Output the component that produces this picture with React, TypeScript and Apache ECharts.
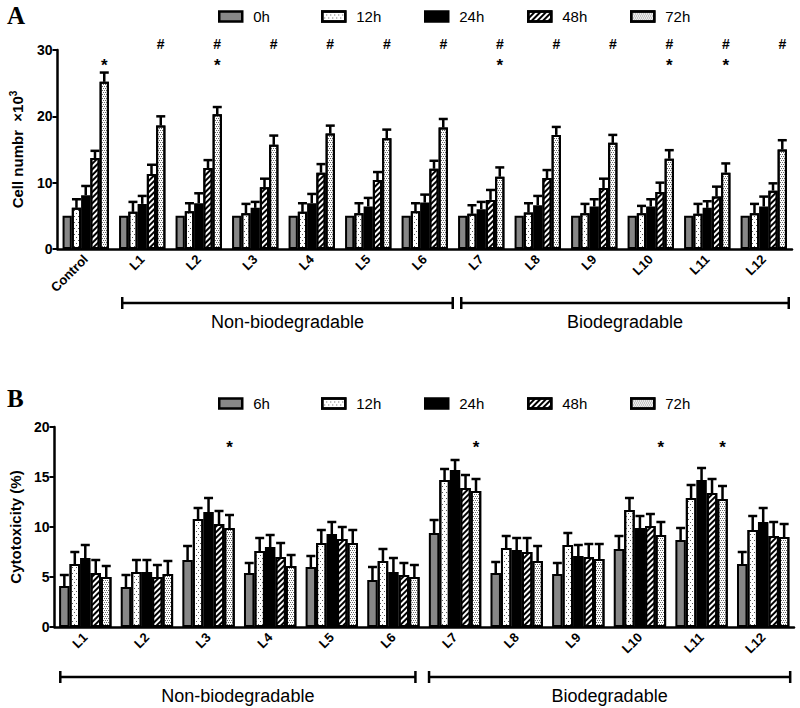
import React, { useEffect, useRef } from 'react';
import * as echarts from 'echarts';

// ---------- Data ----------
const catsA = ['Control', 'L1', 'L2', 'L3', 'L4', 'L5', 'L6', 'L7', 'L8', 'L9', 'L10', 'L11', 'L12'];
const catsB = ['L1', 'L2', 'L3', 'L4', 'L5', 'L6', 'L7', 'L8', 'L9', 'L10', 'L11', 'L12'];
const timesA = ['0h', '12h', '24h', '48h', '72h'];
const timesB = ['6h', '12h', '24h', '48h', '72h'];

// Panel A: cell number (x10^3), mean and SEM (upper bar)
const a0h = [5.0, 5.0, 5.0, 5.0, 5.0, 5.0, 5.0, 5.0, 5.0, 5.0, 5.0, 5.0, 5.0];
const a0hErr = [0, 0, 0, 0, 0, 0, 0, 0, 0, 0, 0, 0, 0];
const a12h = [6.2, 5.6, 5.7, 5.4, 5.6, 5.4, 5.7, 5.3, 5.5, 5.4, 5.4, 5.3, 5.4];
const a12hErr = [1.3, 1.5, 1.2, 1.4, 1.3, 1.5, 1.2, 1.3, 1.4, 1.4, 1.1, 1.5, 1.4];
const a24h = [8.1, 6.8, 6.9, 6.2, 6.9, 6.4, 7.0, 6.0, 6.6, 6.4, 6.4, 6.2, 6.4];
const a24hErr = [1.4, 1.2, 1.5, 0.9, 1.4, 1.3, 1.2, 1.1, 1.4, 1.1, 1.1, 1.0, 1.5];
const a48h = [13.7, 11.3, 12.2, 9.3, 11.5, 10.4, 12.1, 7.4, 10.7, 9.2, 8.6, 7.9, 8.8];
const a48hErr = [1.1, 1.4, 1.2, 1.3, 1.3, 1.2, 1.2, 1.5, 1.2, 1.4, 1.4, 1.5, 1.1];
const a72h = [25.2, 18.6, 20.3, 15.7, 17.4, 16.7, 18.3, 10.9, 17.2, 16.0, 13.6, 11.5, 15.0];
const a72hErr = [1.4, 1.4, 1.1, 1.4, 1.2, 1.3, 1.3, 1.4, 1.2, 1.2, 1.3, 1.4, 1.4];

// Panel B: cytotoxicity (%)
const b6h = [4.1, 4.0, 6.7, 5.4, 6.0, 4.7, 9.4, 5.4, 5.3, 7.8, 8.7, 6.3];
const b6hErr = [1.1, 1.2, 1.4, 1.0, 1.1, 1.3, 1.3, 1.1, 1.1, 1.3, 1.2, 1.2];
const b12h = [6.3, 5.5, 10.8, 7.6, 8.4, 6.6, 14.7, 7.9, 8.2, 11.7, 12.9, 9.7];
const b12hErr = [1.2, 1.2, 1.1, 1.3, 1.3, 1.2, 1.1, 1.2, 1.2, 1.2, 1.3, 1.4];
const b24h = [6.9, 5.5, 11.5, 8.0, 9.3, 5.5, 15.7, 7.7, 7.1, 9.9, 14.7, 10.5];
const b24hErr = [1.3, 1.2, 1.4, 1.2, 1.2, 1.4, 1.0, 1.2, 1.1, 1.2, 1.2, 1.4];
const b48h = [5.4, 5.0, 10.3, 7.0, 8.8, 5.2, 13.9, 7.5, 7.0, 10.1, 13.4, 9.1];
const b48hErr = [1.3, 1.2, 1.3, 1.4, 1.2, 1.2, 1.3, 1.4, 1.3, 1.2, 1.4, 1.4];
const b72h = [5.0, 5.3, 9.9, 6.1, 8.4, 5.0, 13.6, 6.6, 6.8, 9.2, 12.8, 9.0];
const b72hErr = [1.1, 1.3, 1.3, 1.1, 1.3, 1.2, 1.2, 1.5, 1.5, 1.3, 1.3, 1.3];

// Significance marks (placed above the 72h bar)
const hashA = ['L1', 'L2', 'L3', 'L4', 'L5', 'L6', 'L7', 'L8', 'L9', 'L10', 'L11', 'L12'];
const starA = ['Control', 'L2', 'L7', 'L10', 'L11'];
const starB = ['L3', 'L7', 'L10', 'L11'];

// ---------- Styling ----------
const FONT = '"Liberation Sans", Arial, sans-serif';
const GAP_A = 0.18;
const GAP_B = 0.15;

const fills: any[] = [
  { color: '#878787' },
  {
    color: '#ffffff',
    decal: { symbol: 'rect', symbolSize: 1, color: '#555', backgroundColor: '#fff', dashArrayX: [[1, 3], [0, 2, 1, 1]], dashArrayY: [1, 2] },
  },
  { color: '#000000' },
  {
    color: '#ffffff',
    decal: { symbol: 'rect', symbolSize: 1, color: '#000', backgroundColor: '#fff', dashArrayX: [1, 0], dashArrayY: [1.6, 2], rotation: -Math.PI / 4 },
  },
  {
    color: '#ffffff',
    decal: { symbol: 'rect', symbolSize: 1, color: '#666', backgroundColor: '#fff', dashArrayX: [[1, 1], [0, 1, 1, 0]], dashArrayY: [1, 1] },
  },
];

function buildPanel(p: number, cats: string[], names: string[], means: number[][], errs: number[][], gap: number) {
  const series: any[] = [];
  names.forEach((n, si) => {
    series.push({
      type: 'bar',
      name: n,
      xAxisIndex: p,
      yAxisIndex: p,
      data: means[si],
      barGap: '0%',
      barCategoryGap: `${gap * 100}%`,
      itemStyle: { ...fills[si], borderColor: '#000', borderWidth: 2 },
      emphasis: { disabled: true },
      z: 2,
    });
  });
  const rows: number[][] = [];
  means.forEach((arr, si) => arr.forEach((m, ci) => rows.push([ci, si, m, m + errs[si][ci]])));
  series.push({
    type: 'custom',
    name: `err${p}`,
    xAxisIndex: p,
    yAxisIndex: p,
    data: rows,
    encode: { x: 0, y: 3 },
    z: 3,
    silent: true,
    renderItem: (params: any, api: any) => {
      const ci = api.value(0);
      const si = api.value(1);
      const m = api.value(2);
      const t = api.value(3);
      if (t <= m) return null;
      const band = api.size([1, 0])[0];
      const gw = band * (1 - gap);
      const bw = gw / 5;
      const cx = api.coord([ci, 0])[0] - gw / 2 + bw * (si + 0.5);
      const y1 = api.coord([ci, m])[1];
      const y2 = api.coord([ci, t])[1];
      return {
        type: 'group',
        children: [
          { type: 'line', shape: { x1: cx, y1, x2: cx, y2 }, style: { stroke: '#000', lineWidth: 2.5 } },
          { type: 'line', shape: { x1: cx - 4.5, y1: y2, x2: cx + 4.5, y2 }, style: { stroke: '#000', lineWidth: 2.5 } },
        ],
      };
    },
  });
  return series;
}

function markSeries(p: number, cats: string[], list: string[], yVal: number, ch: string, gap: number) {
  return {
    type: 'custom',
    name: `mark${p}${ch}`,
    xAxisIndex: p,
    yAxisIndex: p,
    data: list.map((c) => [cats.indexOf(c), yVal]),
    silent: true,
    z: 5,
    renderItem: (params: any, api: any) => {
      const ci = api.value(0);
      const band = api.size([1, 0])[0];
      const gw = band * (1 - gap);
      const bw = gw / 5;
      const cx = api.coord([ci, 0])[0] - gw / 2 + bw * 4.5;
      const y = api.coord([ci, api.value(1)])[1];
      return {
        type: 'text',
        x: cx,
        y,
        style: { text: ch, fill: '#000', font: `bold ${ch === '*' ? 17 : 14}px ${FONT}`, align: 'center', verticalAlign: 'middle' },
      };
    },
  };
}

const axisLine = { lineStyle: { color: '#000', width: 2.5 } };
const axisTick = { lineStyle: { color: '#000', width: 2 }, length: 5 };

export default function App() {
  const ref = useRef<HTMLDivElement>(null);
  useEffect(() => {
    document.body.style.margin = '0';
    const chart = echarts.init(ref.current!, null, { renderer: 'svg' });
    const seriesA = buildPanel(0, catsA, timesA, [a0h, a12h, a24h, a48h, a72h], [a0hErr, a12hErr, a24hErr, a48hErr, a72hErr], GAP_A);
    const seriesB = buildPanel(1, catsB, timesB, [b6h, b12h, b24h, b48h, b72h], [b6hErr, b12hErr, b24hErr, b48hErr, b72hErr], GAP_B);
    const legendBase = {
      orient: 'horizontal',
      itemWidth: 23,
      itemHeight: 10,
      icon: 'rect',
      selectedMode: false,
      itemStyle: { borderColor: '#000', borderWidth: 2.5 },
      textStyle: { fontFamily: FONT, fontSize: 15, color: '#000', padding: [0, 0, 0, 6] },
    };
    const legends: any[] = [];
    timesA.forEach((t, i) => legends.push({ ...legendBase, data: [t], left: 213 + i * 103, top: 4 }));
    timesB.forEach((t, i) => legends.push({ ...legendBase, data: [t], left: 213 + i * 103, top: 391 }));

    const xAxisCommon = (data: string[], idx: number) => ({
      type: 'category',
      gridIndex: idx,
      data,
      axisLine,
      axisTick: { ...axisTick, alignWithLabel: true, length: 6 },
      axisLabel: { rotate: 45, fontFamily: FONT, fontWeight: 'bold', fontSize: 13, color: '#000', margin: 8, interval: 0 },
      splitLine: { show: false },
    });
    const yLabel = { fontFamily: FONT, fontWeight: 'bold', fontSize: 14, color: '#000', margin: 5 };
    const option: any = {
      animation: false,
      backgroundColor: '#fff',
      grid: [
        { left: 48, right: 8, top: 50, height: 199 },
        { left: 48, right: 6, top: 427, height: 200 },
      ],
      legend: legends,
      xAxis: [xAxisCommon(catsA, 0), xAxisCommon(catsB, 1)],
      yAxis: [
        {
          type: 'value', gridIndex: 0, min: 0, max: 30, interval: 10,
          axisLine: { ...axisLine, show: true }, axisTick: { ...axisTick, show: true },
          splitLine: { show: false },
          axisLabel: yLabel,
          name: 'Cell numbr  \u00d710{sup|3}',
          nameLocation: 'middle', nameGap: 26, nameRotate: 90,
          nameTextStyle: {
            fontFamily: FONT, fontWeight: 'bold', fontSize: 15, color: '#000', lineHeight: 18,
            rich: { sup: { fontFamily: FONT, fontWeight: 'bold', fontSize: 10, color: '#000', verticalAlign: 'top', lineHeight: 18, padding: [0, 0, 7, 0] } },
          },
        },
        {
          type: 'value', gridIndex: 1, min: 0, max: 20, interval: 5,
          axisLine: { ...axisLine, show: true }, axisTick: { ...axisTick, show: true },
          splitLine: { show: false },
          axisLabel: yLabel,
          name: 'Cytotoxicity (%)',
          nameLocation: 'middle', nameGap: 26, nameRotate: 90,
          nameTextStyle: { fontFamily: FONT, fontWeight: 'bold', fontSize: 15, color: '#000' },
        },
      ],
      series: [
        ...seriesA,
        ...seriesB,
        markSeries(0, catsA, hashA, 30.9, '#', GAP_A),
        markSeries(0, catsA, starA, 27.6, '*', GAP_A),
        markSeries(1, catsB, starB, 18.0, '*', GAP_B),
      ],
    };
    chart.setOption(option);

    // Group brackets, placed from the category axis positions
    const px = (axis: number, c: string) => chart.convertToPixel({ xAxisIndex: axis } as any, c) as number;
    const brackets = [
      { axis: 0, from: 'L1', to: 'L6', l: -20, r: 28, y: 303, ty: 322, label: 'Non-biodegradable' },
      { axis: 0, from: 'L7', to: 'L12', l: -20, r: 25, y: 303, ty: 322, label: 'Biodegradable' },
      { axis: 1, from: 'L1', to: 'L6', l: -25, r: 22, y: 677, ty: 696, label: 'Non-biodegradable' },
      { axis: 1, from: 'L7', to: 'L12', l: -26, r: 27, y: 677, ty: 696, label: 'Biodegradable' },
    ];
    const graphic: any[] = [];
    brackets.forEach((b) => {
      const x1 = px(b.axis, b.from) + b.l;
      const x2 = px(b.axis, b.to) + b.r;
      const st = { stroke: '#000', lineWidth: 2.5 };
      graphic.push({ type: 'line', shape: { x1, y1: b.y, x2, y2: b.y }, style: st });
      graphic.push({ type: 'line', shape: { x1, y1: b.y - 6, x2: x1, y2: b.y + 6 }, style: st });
      graphic.push({ type: 'line', shape: { x1: x2, y1: b.y - 6, x2, y2: b.y + 6 }, style: st });
      graphic.push({
        type: 'text', x: (x1 + x2) / 2, y: b.ty,
        style: { text: b.label, fill: '#000', font: `18px ${FONT}`, align: 'center', verticalAlign: 'middle' },
      });
    });
    graphic.push({ type: 'text', x: 7, y: 15, style: { text: 'A', fill: '#000', font: 'bold 25px "Liberation Serif", "Times New Roman", serif', align: 'left', verticalAlign: 'middle' } });
    graphic.push({ type: 'text', x: 7, y: 398, style: { text: 'B', fill: '#000', font: 'bold 25px "Liberation Serif", "Times New Roman", serif', align: 'left', verticalAlign: 'middle' } });
    chart.setOption({ graphic });

    return () => chart.dispose();
  }, []);
  return <div ref={ref} style={{ position: 'absolute', left: 0, top: 0, width: 800, height: 708 }} />;
}
